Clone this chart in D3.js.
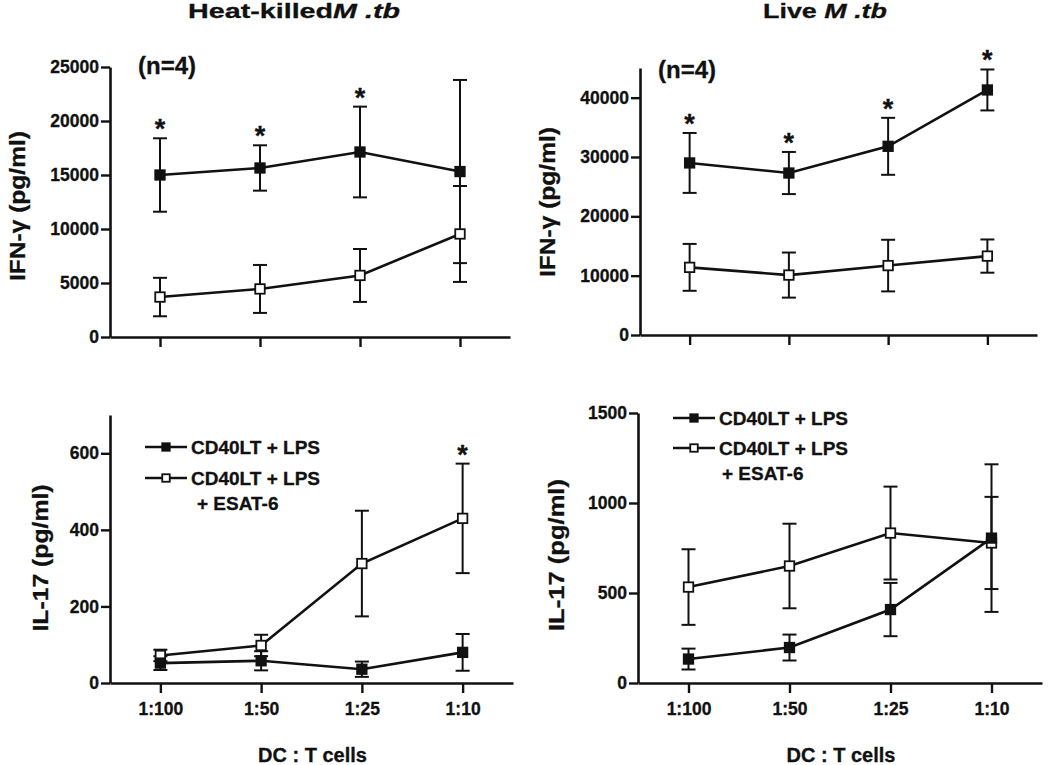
<!DOCTYPE html>
<html>
<head>
<meta charset="utf-8">
<script src="https://cdn.jsdelivr.net/npm/d3@7"></script>
<style>
  body { margin: 0; background: #fff; }
  svg { display: block; font-family: "Liberation Sans", Arial, sans-serif; font-weight: bold; }
  svg text { stroke: #111; stroke-width: 0.3px; }
</style>
</head>
<body>
<div id="chart"></div>
<script>
// DC : T cell ratios on the x axis
const ratios = ["1:100", "1:50", "1:25", "1:10"];

// Heat-killed M.tb, IFN-gamma (pg/ml)
const hkIfnLps = [15000, 15650, 17130, 15320];
const hkIfnLpsErr = [3400, 2100, 4200, 8480];
const hkIfnEsat = [3700, 4450, 5700, 9540];
const hkIfnEsatErr = [1780, 2220, 2450, 4440];
const hkIfnStars = [true, true, true, false];

// Live M.tb, IFN-gamma (pg/ml)
const liveIfnLps = [29000, 27300, 31800, 41300];
const liveIfnLpsErr = [5050, 3550, 4800, 3450];
const liveIfnEsat = [11400, 10100, 11700, 13300];
const liveIfnEsatErr = [3950, 3800, 4350, 2800];
const liveIfnStars = [true, true, true, true];

// Heat-killed M.tb, IL-17 (pg/ml)
const hkIl17Lps = [52, 58, 36, 80];
const hkIl17LpsErr = [18, 25, 20, 48];
const hkIl17Esat = [72, 98, 312, 430];
const hkIl17EsatErr = [15, 28, 138, 143];
const hkIl17Stars = [false, false, false, true];

// Live M.tb, IL-17 (pg/ml)
const liveIl17Lps = [133, 197, 408, 805];
const liveIl17LpsErr = [58, 72, 148, 410];
const liveIl17Esat = [533, 650, 833, 778];
const liveIl17EsatErr = [210, 235, 258, 256];
const liveIl17Stars = [false, false, false, false];

const seriesNames = ["CD40LT + LPS", "CD40LT + LPS", "+ ESAT-6"];

const width = 1050, height = 765;
const svg = d3.select("#chart").append("svg")
    .attr("width", width)
    .attr("height", height);

const panels = [
    { x0: 110, x1: 510, y0: 337, y1: 67, max: 25000, step: 5000,
      lps: hkIfnLps, lpsErr: hkIfnLpsErr, esat: hkIfnEsat, esatErr: hkIfnEsatErr,
      stars: hkIfnStars, ylabel: "IFN-γ (pg/ml)", labelX: 17, labelY: 206, labelLen: 150,
      n: { x: 138, y: 66 } },
    { x0: 640, x1: 1037, y0: 335, y1: 68, max: 45000, step: 10000,
      lps: liveIfnLps, lpsErr: liveIfnLpsErr, esat: liveIfnEsat, esatErr: liveIfnEsatErr,
      stars: liveIfnStars, ylabel: "IFN-γ (pg/ml)", labelX: 547, labelY: 202, labelLen: 150,
      n: { x: 658, y: 70 } },
    { x0: 110, x1: 513, y0: 683, y1: 415, max: 700, step: 200,
      lps: hkIl17Lps, lpsErr: hkIl17LpsErr, esat: hkIl17Esat, esatErr: hkIl17EsatErr,
      stars: hkIl17Stars, ylabel: "IL-17 (pg/ml)", labelX: 40, labelY: 558, labelLen: 147,
      xlabel: true, legend: { x: 145, y: 447, gap: 31, y3: 503, x3: 197 } },
    { x0: 638, x1: 1042, y0: 683, y1: 413, max: 1500, step: 500,
      lps: liveIl17Lps, lpsErr: liveIl17LpsErr, esat: liveIl17Esat, esatErr: liveIl17EsatErr,
      stars: liveIl17Stars, ylabel: "IL-17 (pg/ml)", labelX: 556, labelY: 555, labelLen: 152,
      xlabel: true, legend: { x: 673, y: 418, gap: 30, y3: 473, x3: 722 } }
];

// panel titles, stretched to the width they take in the figure
const t1 = svg.append("text").attr("x", 188).attr("y", 18)
    .attr("font-size", 21).attr("fill", "#111")
    .attr("textLength", 212).attr("lengthAdjust", "spacingAndGlyphs")
    .text("Heat-killed");
t1.append("tspan").attr("font-style", "italic").text("M .tb");
const t2 = svg.append("text").attr("x", 763).attr("y", 18)
    .attr("font-size", 21).attr("fill", "#111")
    .attr("textLength", 124).attr("lengthAdjust", "spacingAndGlyphs")
    .text("Live ");
t2.append("tspan").attr("font-style", "italic").text("M .tb");

function drawMarker(g, cx, cy, filled, size) {
    g.append("rect")
        .attr("x", cx - size / 2).attr("y", cy - size / 2)
        .attr("width", size).attr("height", size)
        .attr("fill", filled ? "#111" : "#fff")
        .attr("stroke", "#111").attr("stroke-width", 1.8);
}

panels.forEach(p => {
    const g = svg.append("g");
    const x = d3.scalePoint().domain(ratios).range([p.x0, p.x1]).padding(0.5);
    const y = d3.scaleLinear().domain([0, p.max]).range([p.y0, p.y1]);

    // axes
    const yAxis = g.append("g").attr("transform", `translate(${p.x0},0)`)
        .call(d3.axisLeft(y).tickValues(d3.range(0, p.max + 1, p.step))
            .tickFormat(d3.format("d")).tickSize(9).tickSizeOuter(0).tickPadding(2));
    const xAxis = g.append("g").attr("transform", `translate(0,${p.y0})`)
        .call(d3.axisBottom(x).tickSize(10).tickSizeOuter(0).tickPadding(10)
            .tickFormat(p.xlabel ? d => d : () => ""));
    [yAxis, xAxis].forEach(a => {
        a.select(".domain").attr("stroke", "#111").attr("stroke-width", 2.6);
        a.selectAll(".tick line").attr("stroke", "#111").attr("stroke-width", 2.4);
        a.selectAll(".tick text").attr("fill", "#111").attr("font-size", 17.5)
            .attr("font-family", "Liberation Sans, Arial, sans-serif").attr("font-weight", "bold");
    });

    // y axis label
    g.append("text")
        .attr("transform", `translate(${p.labelX},${p.labelY}) rotate(-90)`)
        .attr("text-anchor", "middle").attr("dy", "0.35em")
        .attr("font-size", 22).attr("fill", "#111")
        .attr("textLength", p.labelLen).attr("lengthAdjust", "spacingAndGlyphs")
        .text(p.ylabel);

    if (p.n) {
        g.append("text").attr("x", p.n.x).attr("y", p.n.y)
            .attr("dy", "0.35em").attr("font-size", 24).attr("fill", "#111").text("(n=4)");
    }
    if (p.xlabel) {
        g.append("text").attr("x", (p.x0 + p.x1) / 2 + 1).attr("y", 762)
            .attr("text-anchor", "middle").attr("font-size", 20).attr("fill", "#111")
            .text("DC : T cells");
    }

    const line = d3.line().x((d, i) => x(ratios[i])).y(d => y(d));
    const series = [
        { vals: p.lps, err: p.lpsErr, filled: true },
        { vals: p.esat, err: p.esatErr, filled: false }
    ];

    series.forEach(s => {
        g.append("path").datum(s.vals).attr("d", line)
            .attr("fill", "none").attr("stroke", "#111").attr("stroke-width", 2.6);
    });
    series.forEach(s => {
        s.vals.forEach((v, i) => {
            const cx = x(ratios[i]);
            const top = y(v + s.err[i]), bot = y(v - s.err[i]);
            g.append("line").attr("x1", cx).attr("x2", cx).attr("y1", top).attr("y2", bot)
                .attr("stroke", "#111").attr("stroke-width", 2);
            [top, bot].forEach(yy => g.append("line")
                .attr("x1", cx - 7).attr("x2", cx + 7).attr("y1", yy).attr("y2", yy)
                .attr("stroke", "#111").attr("stroke-width", 2));
        });
    });
    // open markers below filled ones
    series.slice().reverse().forEach(s => {
        s.vals.forEach((v, i) => drawMarker(g, x(ratios[i]), y(v), s.filled, 9.5));
    });

    // significance stars above the top error bar
    p.stars.forEach((st, i) => {
        if (!st) return;
        const top = Math.min(y(p.lps[i] + p.lpsErr[i]), y(p.esat[i] + p.esatErr[i]));
        g.append("text").attr("x", x(ratios[i])).attr("y", top)
            .attr("text-anchor", "middle").attr("font-size", 27).attr("fill", "#111").text("*");
    });

    if (p.legend) {
        const L = p.legend;
        [0, 1].forEach(k => {
            const yy = L.y + k * L.gap;
            g.append("line").attr("x1", L.x).attr("x2", L.x + 42).attr("y1", yy).attr("y2", yy)
                .attr("stroke", "#111").attr("stroke-width", 2.6);
            drawMarker(g, L.x + 21, yy, k === 0, 7.5);
            g.append("text").attr("x", L.x + 46).attr("y", yy).attr("dy", "0.35em")
                .attr("font-size", 19).attr("fill", "#111").text(seriesNames[k]);
        });
        g.append("text").attr("x", L.x3).attr("y", L.y3).attr("dy", "0.35em")
            .attr("font-size", 19).attr("fill", "#111").text(seriesNames[2]);
    }
});
</script>
</body>
</html>
